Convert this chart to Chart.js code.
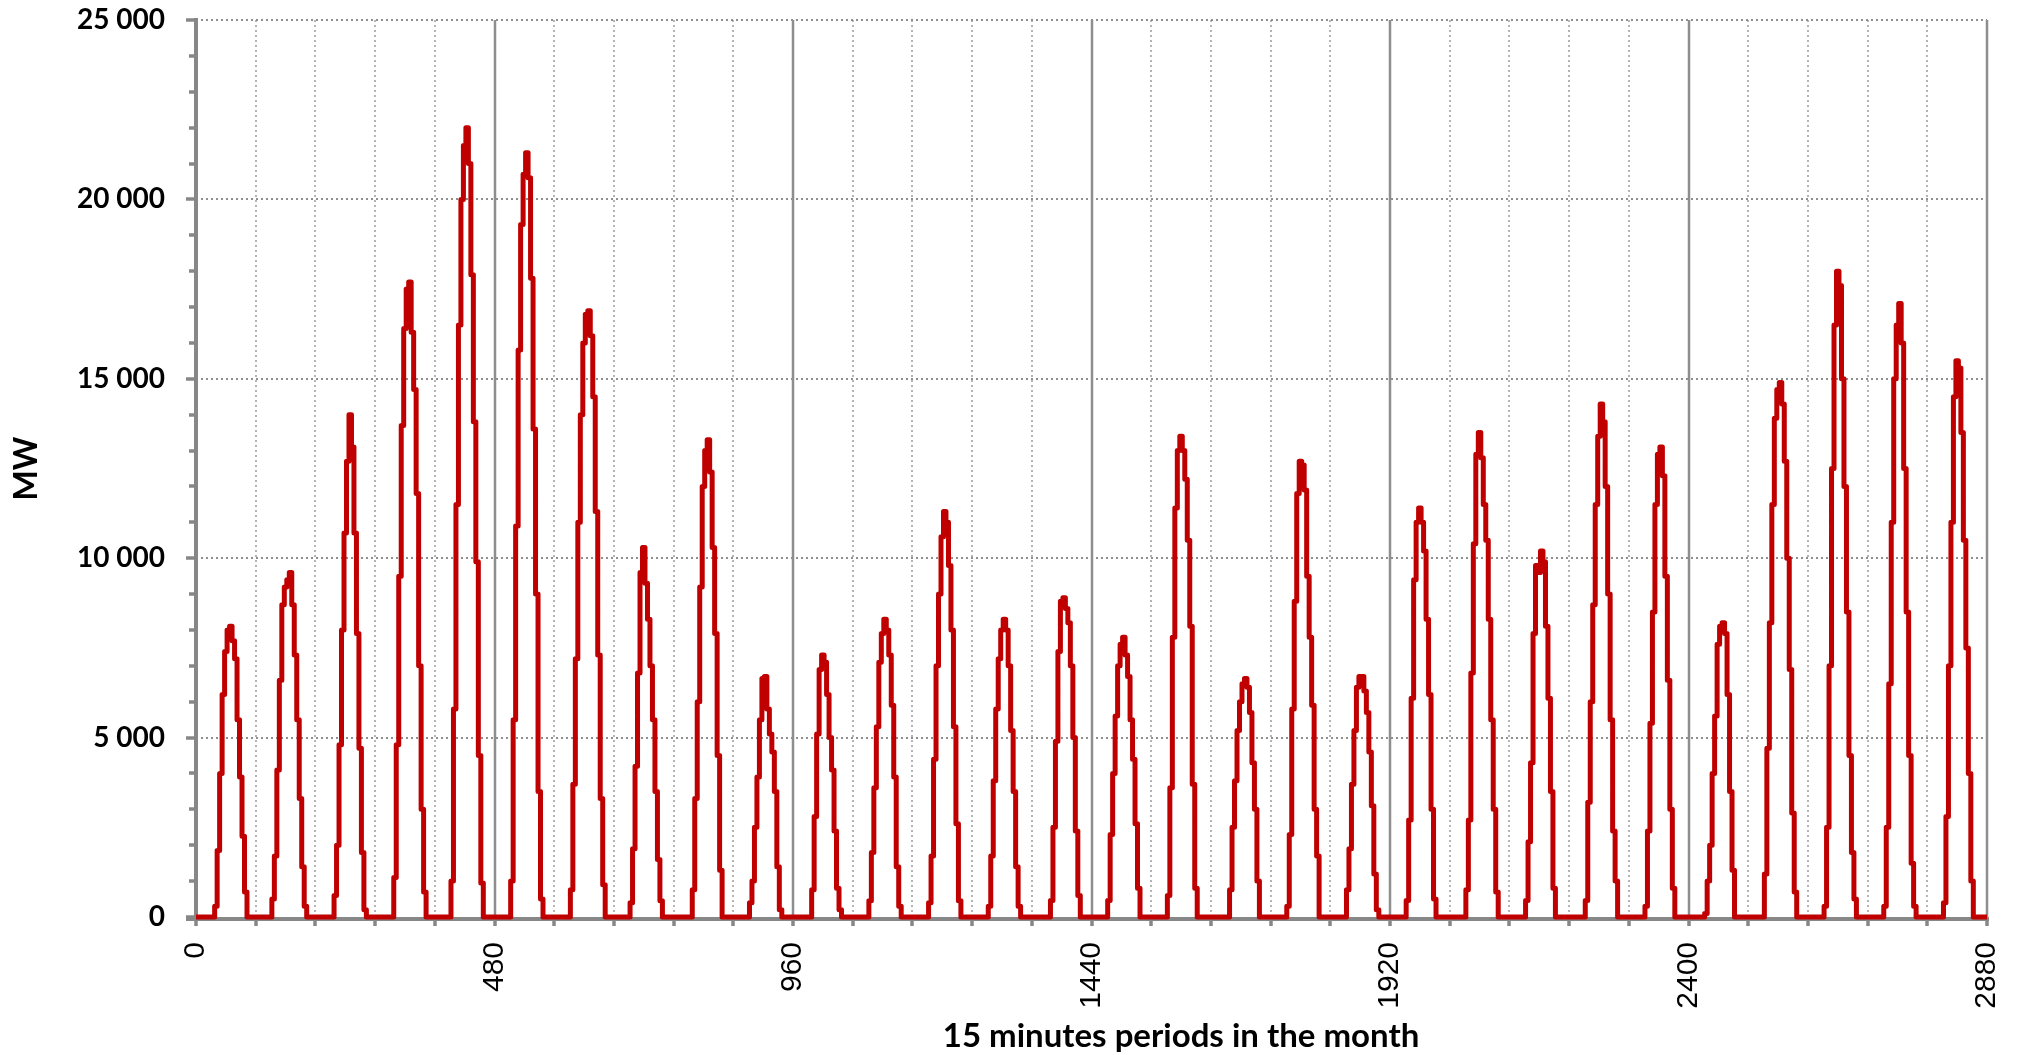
<!DOCTYPE html>
<html>
<head>
<meta charset="utf-8">
<title>MW per 15 minutes period</title>
<script src="https://cdn.jsdelivr.net/npm/chart.js@4/dist/chart.umd.min.js"></script>
<style>
  html, body { margin: 0; padding: 0; background: #fff; }
  #wrap { width: 2022px; height: 1055px; }
</style>
</head>
<body>
<div id="wrap"><canvas id="chart" width="2022" height="1055"></canvas></div>
<script>
// readings in MW at full hours 07:00 .. 20:00, one array per day of the month
const hours = [7, 8, 9, 10, 11, 12, 13, 14, 15, 16, 17, 18, 19, 20];

const d01 = [0, 300, 1850, 4000, 6200, 7400, 8000, 8100, 7700, 7200, 5500, 3900, 2250, 700];
const d02 = [500, 1700, 4100, 6600, 8700, 9200, 9400, 9600, 8700, 7300, 5500, 3300, 1400, 300];
const d03 = [0, 600, 2000, 4800, 8000, 10700, 12700, 14000, 13100, 10700, 7900, 4700, 1800, 200];
const d04 = [0, 1100, 4800, 9500, 13700, 16400, 17500, 17700, 16300, 14700, 11800, 7000, 3000, 700];
const d05 = [1000, 5800, 11500, 16500, 20000, 21500, 22000, 21000, 17900, 13800, 9900, 4500, 950, 0];
const d06 = [1000, 5500, 10900, 15800, 19300, 20700, 21300, 20600, 17800, 13600, 9000, 3500, 500, 0];
const d07 = [760, 3700, 7200, 11000, 14000, 16000, 16800, 16900, 16200, 14500, 11300, 7300, 3300, 900];
const d08 = [400, 1900, 4200, 6800, 9600, 10300, 9300, 8300, 7000, 5500, 3500, 1600, 450, 0];
const d09 = [0, 760, 3300, 6000, 9200, 12000, 13000, 13300, 12400, 10300, 7900, 4500, 1300, 0];
const d10 = [400, 1000, 2500, 3900, 5500, 6650, 6700, 5800, 5100, 4600, 3500, 1400, 200, 0];
const d11 = [0, 760, 2800, 5100, 6900, 7300, 7100, 6200, 5000, 4100, 2400, 800, 200, 0];
const d12 = [450, 1800, 3600, 5300, 7100, 7900, 8300, 8000, 7300, 5900, 3900, 1400, 300, 0];
const d13 = [400, 1700, 4400, 7000, 9000, 10600, 11300, 11000, 9800, 8000, 5300, 2600, 450, 0];
const d14 = [300, 1700, 3800, 5800, 7200, 8000, 8300, 8000, 7000, 5200, 3500, 1400, 300, 0];
const d15 = [0, 460, 2500, 4900, 7400, 8800, 8900, 8600, 8200, 7000, 5000, 2400, 600, 0];
const d16 = [460, 2300, 4000, 5600, 7000, 7600, 7800, 7300, 6700, 5500, 4400, 2600, 800, 0];
const d17 = [600, 3600, 7800, 11400, 13000, 13400, 13000, 12200, 10500, 8100, 3700, 800, 0, 0];
const d18 = [0, 760, 2500, 3800, 5200, 6000, 6500, 6650, 6400, 5700, 4300, 3000, 1000, 0];
const d19 = [300, 2300, 5800, 8800, 11800, 12700, 12600, 11900, 9500, 7800, 5900, 3000, 1700, 0];
const d20 = [760, 1900, 3700, 5200, 6400, 6700, 6700, 6300, 5700, 4600, 3100, 1200, 200, 0];
const d21 = [460, 2700, 6100, 9400, 11000, 11400, 11000, 10200, 8300, 6200, 3000, 500, 0, 0];
const d22 = [760, 2700, 6800, 10400, 12900, 13500, 12800, 11500, 10500, 8300, 5500, 3000, 700, 0];
const d23 = [460, 2100, 4300, 7900, 9800, 9600, 10200, 9900, 8100, 6100, 3500, 800, 0, 0];
const d24 = [460, 3200, 6000, 8700, 11500, 13400, 14300, 13800, 12000, 9000, 5500, 2400, 1000, 0];
const d25 = [300, 2400, 5400, 8500, 11500, 12900, 13100, 12300, 9500, 6600, 3000, 800, 0, 0];
const d26 = [100, 1000, 2000, 4000, 5600, 7600, 8100, 8200, 7900, 6200, 3500, 1300, 0, 0];
const d27 = [1200, 4700, 8200, 11500, 13900, 14700, 14900, 14300, 12700, 10000, 6900, 2900, 700, 0];
const d28 = [300, 2500, 7000, 12500, 16500, 18000, 17600, 15000, 12000, 8500, 4500, 1800, 500, 0];
const d29 = [300, 2500, 6500, 11000, 15000, 16500, 17100, 16000, 12500, 8500, 4500, 1500, 300, 0];
const d30 = [400, 2800, 7000, 11000, 14500, 15500, 15300, 13500, 10500, 7500, 4000, 1000, 0, 0];

const month = [d01, d02, d03, d04, d05, d06, d07, d08, d09, d10,
               d11, d12, d13, d14, d15, d16, d17, d18, d19, d20,
               d21, d22, d23, d24, d25, d26, d27, d28, d29, d30];

const xLabels = [0, 480, 960, 1440, 1920, 2400, 2880];
const yLabels = [0, 5000, 10000, 15000, 20000, 25000];
const periodsPerDay = 96;
const periodsPerHour = 4;

// one point per reading, flat zero between the daylight hours
let points = [{x: 0, y: 0}];
month.forEach((vals, d) => {
    let start = d * periodsPerDay;
    points.push({x: start + (hours[0] - 1) * periodsPerHour, y: 0});
    vals.forEach((v, i) => points.push({x: start + hours[i] * periodsPerHour, y: v}));
    points.push({x: start + (hours[hours.length - 1] + 1) * periodsPerHour, y: 0});
});
points.push({x: 2880, y: 0});

function seg(ctx, x1, y1, x2, y2) {
    ctx.beginPath();
    ctx.moveTo(x1, y1);
    ctx.lineTo(x2, y2);
    ctx.stroke();
}

// grid, axis lines and tick marks, drawn under the series
const decor = {
    id: "decor",
    beforeDatasetsDraw(chart) {
        const {ctx, chartArea: a, scales: {x, y}} = chart;
        ctx.save();

        // dotted day lines
        ctx.setLineDash([2, 3]);
        ctx.lineWidth = 2;
        ctx.strokeStyle = "#b4b4b4";
        for (let p = periodsPerDay; p < 2880; p += periodsPerDay) {
            if (xLabels.includes(p)) continue;
            let px = Math.round(x.getPixelForValue(p));
            seg(ctx, px, a.top, px, a.bottom);
        }

        // dotted value lines
        ctx.strokeStyle = "#8e8e8e";
        yLabels.forEach(v => {
            if (v === 0) return;
            let py = Math.round(y.getPixelForValue(v));
            seg(ctx, a.left, py, a.right, py);
        });
        ctx.setLineDash([]);

        // solid lines every 480 periods
        ctx.strokeStyle = "#8e8e8e";
        ctx.lineWidth = 2.5;
        xLabels.forEach(p => {
            if (p === 0) return;
            let px = Math.round(x.getPixelForValue(p));
            seg(ctx, px, a.top, px, a.bottom);
        });

        // axes
        ctx.strokeStyle = "#878787";
        ctx.lineWidth = 4;
        seg(ctx, a.left, a.top - 2, a.left, a.bottom + 4);
        seg(ctx, a.left - 10, a.bottom + 2, a.right + 2, a.bottom + 2);

        // y tick marks: long every 5000, short every 1000
        ctx.lineWidth = 3.5;
        for (let v = 0; v <= 25000; v += 1000) {
            let py = Math.round(y.getPixelForValue(v));
            let len = (v % 5000 === 0) ? 10 : 7;
            seg(ctx, a.left - len, py, a.left, py);
        }

        // x tick marks every day
        for (let p = 0; p <= 2880; p += periodsPerDay) {
            let px = Math.round(x.getPixelForValue(p));
            seg(ctx, px, a.bottom, px, a.bottom + 9);
        }
        ctx.restore();
    },
    afterDraw(chart) {
        const {ctx, chartArea: a} = chart;
        ctx.save();
        ctx.fillStyle = "#000";
        ctx.font = "bold 33px Lato";
        ctx.textAlign = "center";
        ctx.textBaseline = "middle";
        ctx.fillText("15 minutes periods in the month", a.left + (a.right - a.left) * 0.55, 1036);
        ctx.restore();
    }
};

new Chart(document.getElementById("chart"), {
    type: "line",
    data: {
        datasets: [{
            data: points,
            borderColor: "#c00000",
            borderWidth: 5,
            borderJoinStyle: "round",
            stepped: "middle",
            pointRadius: 0,
            fill: false,
            clip: 8
        }]
    },
    options: {
        responsive: false,
        animation: false,
        devicePixelRatio: 1,
        layout: {padding: {top: 20, right: 35, left: 0, bottom: 0}},
        plugins: {legend: {display: false}, tooltip: {enabled: false}},
        scales: {
            x: {
                type: "linear",
                min: 0,
                max: 2880,
                grid: {display: false, drawTicks: false},
                border: {display: false},
                ticks: {
                    stepSize: 480,
                    autoSkip: false,
                    minRotation: 90,
                    maxRotation: 90,
                    padding: 25,
                    color: "#000",
                    font: {family: "Liberation Sans", size: 30},
                    callback: v => xLabels.includes(v) ? String(v) : ""
                },
                afterFit: s => {
                    s.height = 138;
                    s.paddingLeft = 0;
                    s.paddingRight = 0;
                }
            },
            y: {
                min: 0,
                max: 25000,
                grid: {display: false, drawTicks: false},
                border: {display: false},
                ticks: {
                    stepSize: 5000,
                    padding: 31,
                    color: "#000",
                    font: {family: "Lato", size: 28, weight: "bold"},
                    callback: v => String(v).replace(/\B(?=(\d{3})+(?!\d))/g, " ")
                },
                title: {
                    display: true,
                    text: "MW",
                    color: "#000",
                    font: {family: "Lato", size: 32, weight: "bold"},
                    padding: {top: 7, bottom: 0}
                },
                afterFit: s => {
                    s.width = 196;
                    s.paddingTop = 0;
                    s.paddingBottom = 0;
                }
            }
        }
    },
    plugins: [decor]
});
</script>
</body>
</html>
